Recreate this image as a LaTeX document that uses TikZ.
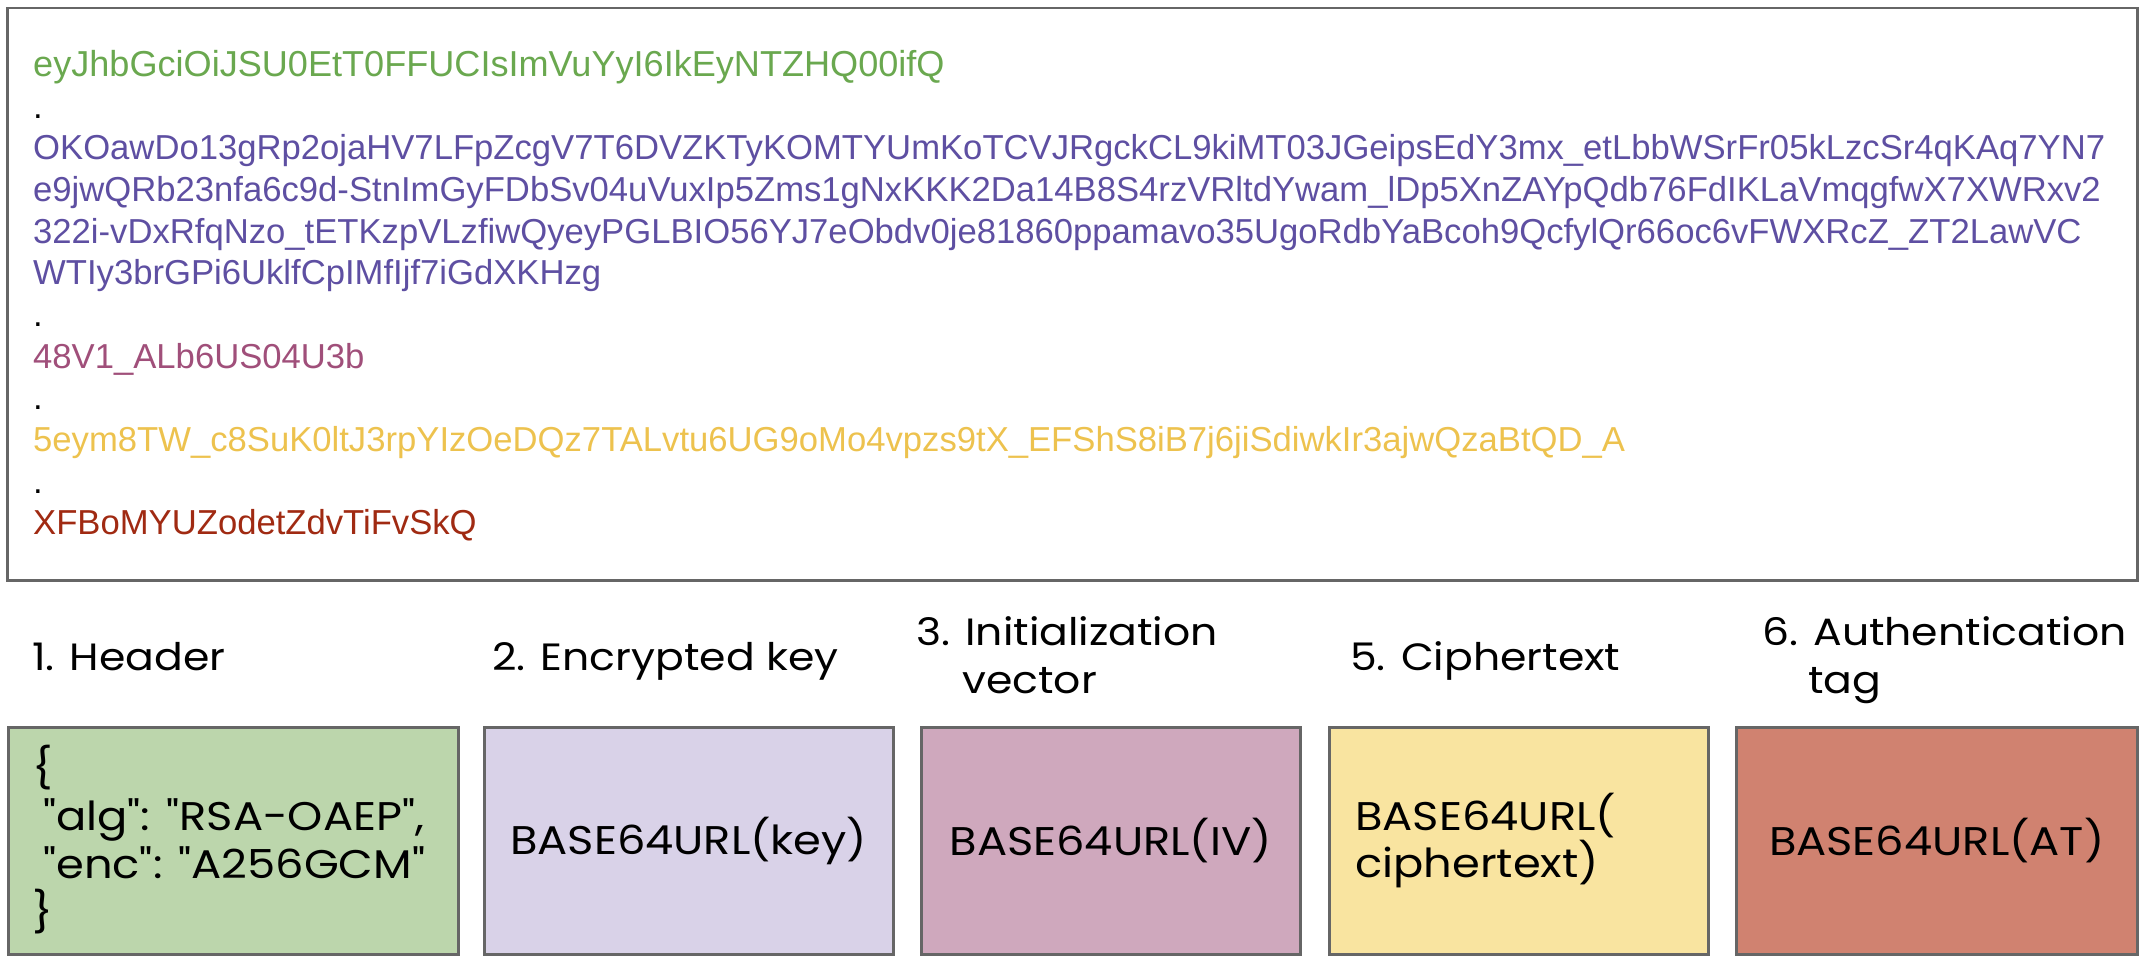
\documentclass[tikz,border=0pt]{standalone}
\usepackage{fontspec}
\setmainfont{Liberation Sans}
\newfontfamily\labfont[FakeStretch=1.12]{Poppins}
\definecolor{cgreen}{HTML}{6AA84F}
\definecolor{cpurple}{HTML}{5E4FA2}
\definecolor{cmag}{HTML}{A04F7A}
\definecolor{cyel}{HTML}{EDC24E}
\definecolor{cred}{HTML}{A02A12}
\definecolor{fgreen}{HTML}{BCD6AC}
\definecolor{fpurple}{HTML}{D9D2E8}
\definecolor{fmag}{HTML}{CFA8BD}
\definecolor{fyel}{HTML}{F9E4A0}
\definecolor{fred}{HTML}{D08270}
\definecolor{frame}{HTML}{666666}
\tikzset{
  jwt/.style={anchor=base west, inner sep=0pt, font=\fontsize{34.65}{41.65}\selectfont},
  lbl/.style={anchor=base west, inner sep=0pt, font=\labfont\fontsize{38}{48}\selectfont},
  boxtxt/.style={inner sep=0pt, font=\labfont\fontsize{40}{48}\selectfont},
  part/.style={draw=frame, line width=2.5pt, anchor=north west, inner sep=0pt, minimum height=227pt},
}
\begin{document}
\begin{tikzpicture}[x=1pt,y=-1pt]
\useasboundingbox (0,0) rectangle (2142,960);
\node[draw=frame, line width=2.5pt, anchor=north west, inner sep=0pt, minimum width=2130pt, minimum height=572pt] (outer) at (6,7) {};
% JWT text
\node[jwt, text=cgreen, font=\fontsize{36.1}{41.65}\selectfont] (t1) at (33,76.5) {eyJhbGciOiJSU0EtT0FFUCIsImVuYyI6IkEyNTZHQ00ifQ};
\node[jwt] (d1) at (33,118.2) {.};
\node[jwt, text=cpurple] (t2a) at (33,159.8) {OKOawDo13gRp2ojaHV7LFpZcgV7T6DVZKTyKOMTYUmKoTCVJRgckCL9kiMT03JGeipsEdY3mx\_etLbbWSrFr05kLzcSr4qKAq7YN7};
\node[jwt, text=cpurple] (t2b) at (33,201.5) {e9jwQRb23nfa6c9d-StnImGyFDbSv04uVuxIp5Zms1gNxKKK2Da14B8S4rzVRltdYwam\_lDp5XnZAYpQdb76FdIKLaVmqgfwX7XWRxv2};
\node[jwt, text=cpurple] (t2c) at (33,243.1) {322i-vDxRfqNzo\_tETKzpVLzfiwQyeyPGLBIO56YJ7eObdv0je81860ppamavo35UgoRdbYaBcoh9QcfylQr66oc6vFWXRcZ\_ZT2LawVC};
\node[jwt, text=cpurple] (t2d) at (33,284.8) {WTIy3brGPi6UklfCpIMfIjf7iGdXKHzg};
\node[jwt] (d2) at (33,326.4) {.};
\node[jwt, text=cmag] (t3) at (33,368.1) {48V1\_ALb6US04U3b};
\node[jwt] (d3) at (33,409.7) {.};
\node[jwt, text=cyel] (t4) at (33,451.4) {5eym8TW\_c8SuK0ltJ3rpYIzOeDQz7TALvtu6UG9oMo4vpzs9tX\_EFShS8iB7j6jiSdiwkIr3ajwQzaBtQD\_A};
\node[jwt] (d4) at (33,493.0) {.};
\node[jwt, text=cred] (t5) at (33,534.7) {XFBoMYUZodetZdvTiFvSkQ};
% labels
\node[lbl] (l1) at (32,670) {1. Header};
\node[lbl] (l2) at (492,670) {2. Encrypted key};
\node[lbl] (l3a) at (916,645) {3. Initialization};
\node[lbl] (l3b) at (962,693) {vector};
\node[lbl] (l4) at (1350,670) {5. Ciphertext};
\node[lbl] (l5a) at (1762,645) {6. Authentication};
\node[lbl] (l5b) at (1808,693) {tag};
% boxes
\node[part, fill=fgreen, minimum width=450pt] (b1) at (7,726) {};
\node[part, fill=fpurple, minimum width=409pt] (b2) at (483,726) {};
\node[part, fill=fmag, minimum width=379pt] (b3) at (920,726) {};
\node[part, fill=fyel, minimum width=379pt] (b4) at (1328,726) {};
\node[part, fill=fred, minimum width=401pt] (b5) at (1735,726) {};
% box contents
\node[boxtxt, anchor=base west] (j1) at (32,782) {\{};
\node[boxtxt, anchor=base west] (j2) at (43,830) {"alg": "RSA-OAEP",};
\node[boxtxt, anchor=base west] (j3) at (43,878) {"enc": "A256GCM"};
\node[boxtxt, anchor=base west] (j4) at (32,926) {\}};
\node[boxtxt] (k2) at (b2.center) {BASE64URL(key)};
\node[boxtxt] (k3) at (b3.center) {BASE64URL(IV)};
\node[boxtxt, anchor=base west] (k4a) at (1355,830) {BASE64URL(};
\node[boxtxt, anchor=base west] (k4b) at (1355,877) {ciphertext)};
\node[boxtxt] (k5) at (b5.center) {BASE64URL(AT)};
\end{tikzpicture}
\end{document}
